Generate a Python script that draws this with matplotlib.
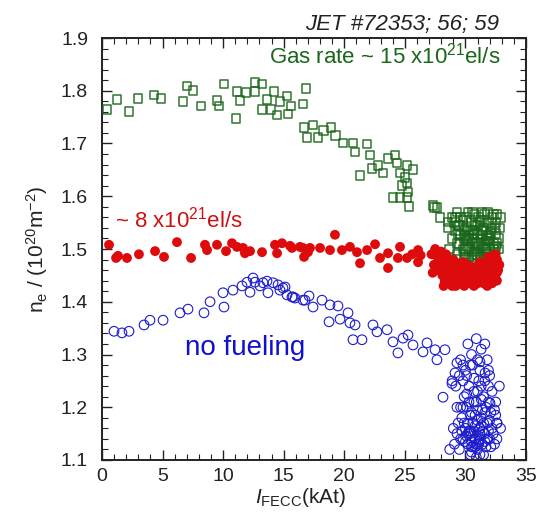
import matplotlib
matplotlib.use("Agg")
import matplotlib.pyplot as plt
from matplotlib.ticker import MultipleLocator

plt.rcParams['font.family'] = ['Liberation Sans', 'DejaVu Sans']
plt.rcParams['mathtext.fontset'] = 'custom'
plt.rcParams['mathtext.rm'] = 'Liberation Sans'
plt.rcParams['mathtext.it'] = 'Liberation Sans:italic'
plt.rcParams['mathtext.bf'] = 'Liberation Sans:bold'

# ---- Data: gas rate ~15e21 el/s (green squares) ----
green_x = [0.41, 1.24, 2.23, 2.97, 4.29, 4.87, 6.69, 7.02, 7.51, 8.17, 9.49, 9.66, 10.07,
           11.06, 11.14, 11.39, 11.89, 12.63, 12.63, 13.21, 13.21, 13.62, 13.95, 14.2, 14.45,
           14.69, 15.27, 15.35, 15.6, 16.59, 16.84, 16.68, 16.92, 17.42, 17.83, 18.3, 18.9, 19.3,
           19.89, 20.72, 21.88, 20.89, 22.12, 21.3, 22.29, 22.78, 23.2, 23.61, 24.19, 24.35,
           24.6, 25.18, 25.67, 25.01, 24.76, 25.18, 25.26, 24.02, 24.6, 25.18, 25.34, 27.32,
           27.45, 27.65, 27.9, 28.56, 29.3, 30.21, 31.37, 32.6,
           29.1, 29.4, 29.6, 29.9, 30.1, 30.3, 30.5, 30.7, 30.9, 31.1, 31.3, 31.5, 31.7, 31.9,
           32.1, 32.3, 32.5, 32.7, 29.3, 29.7, 30.0, 30.4, 30.8, 31.2, 31.6, 32.0, 32.4, 29.5,
           29.8, 30.2, 30.6, 31.0, 31.4, 31.8, 32.2, 32.6, 28.9, 28.7, 29.0, 30.6, 31.2, 31.8,
           32.8, 30.0, 30.5, 31.0, 31.5, 32.0, 30.8, 31.4, 30.3, 29.2, 32.3, 28.8, 31.6, 30.9,
           30.2, 29.4, 30.1, 30.7, 31.3, 31.9, 32.5, 29.9, 30.6, 31.1, 31.7,
           29.2, 29.5, 29.8, 30.1, 30.4, 30.7, 31.0, 31.3, 31.6, 31.9, 32.2, 32.5,
           29.3, 29.6, 29.9, 30.2, 30.5, 30.8, 31.1, 31.4, 31.7, 32.0, 32.3, 32.6,
           29.4, 30.0, 30.6, 31.2, 31.8, 32.4, 28.6, 28.9, 32.9, 32.7, 30.3, 31.5]
green_y = [1.765, 1.784, 1.760, 1.786, 1.792, 1.786, 1.779, 1.809, 1.801, 1.771, 1.782, 1.771, 1.813,
           1.748, 1.798, 1.781, 1.796, 1.815, 1.798, 1.813, 1.764, 1.784, 1.764, 1.798, 1.754,
           1.779, 1.790, 1.756, 1.771, 1.775, 1.805, 1.731, 1.712, 1.735, 1.712, 1.725, 1.730, 1.715,
           1.701, 1.701, 1.699, 1.684, 1.678, 1.640, 1.653, 1.659, 1.644, 1.672, 1.678, 1.663,
           1.644, 1.659, 1.650, 1.636, 1.621, 1.625, 1.608, 1.597, 1.597, 1.597, 1.580, 1.583,
           1.578, 1.578, 1.560, 1.551, 1.570, 1.570, 1.570, 1.566,
           1.55, 1.53, 1.56, 1.52, 1.54, 1.50, 1.55, 1.53, 1.51, 1.56, 1.52, 1.54, 1.50, 1.55,
           1.53, 1.51, 1.55, 1.52, 1.49, 1.47, 1.48, 1.46, 1.49, 1.47, 1.48, 1.46, 1.49, 1.51,
           1.50, 1.52, 1.51, 1.53, 1.50, 1.52, 1.54, 1.47, 1.52, 1.50, 1.47, 1.57, 1.55, 1.57,
           1.54, 1.50, 1.48, 1.49, 1.51, 1.50, 1.545, 1.535, 1.525, 1.535, 1.565, 1.48, 1.465, 1.465,
           1.465, 1.545, 1.515, 1.495, 1.535, 1.515, 1.505, 1.535, 1.485, 1.505, 1.485,
           1.56, 1.545, 1.555, 1.56, 1.535, 1.565, 1.545, 1.555, 1.565, 1.525, 1.56, 1.53,
           1.51, 1.525, 1.49, 1.505, 1.52, 1.50, 1.51, 1.525, 1.515, 1.52, 1.50, 1.51,
           1.48, 1.525, 1.535, 1.49, 1.49, 1.54, 1.54, 1.56, 1.56, 1.50, 1.485, 1.485]

# ---- Data: ~8e21 el/s (red dots) ----
red_x = [0.58, 1.16, 1.32, 2.06, 3.05, 4.38, 5.12, 6.19, 7.35, 8.5, 8.67, 9.49, 10.24, 10.73,
         11.14, 11.64, 11.8, 12.22, 13.21, 14.28, 14.45, 14.86, 15.52, 15.68, 16.34, 16.68, 17.0,
         16.59, 17.17, 18.0, 19.23, 18.82, 19.81, 20.47, 21.05, 21.3, 21.88, 22.54, 22.95, 23.61,
         23.61, 24.6, 24.43, 25.18, 26.09, 26.09, 25.6, 26.3,
         27.2, 27.4, 27.6, 27.9, 28.1, 28.3, 28.5, 28.7, 28.9, 29.1, 29.3, 29.5, 29.7, 29.9,
         30.1, 30.3, 30.5, 30.7, 30.9, 31.1, 31.3, 31.5, 31.7, 31.9, 32.1, 32.3, 32.5, 32.7,
         32.6, 32.4, 28.4, 28.0, 28.6, 29.0, 29.4, 29.8, 30.2, 30.6, 31.0, 31.4, 31.8, 32.2,
         29.2, 30.0, 30.8, 31.6, 32.0, 28.8, 29.6, 30.4, 31.2, 32.5, 31.9, 28.2,
         27.3, 27.7, 28.2, 28.6, 29.0, 29.4, 29.8, 30.2, 30.6, 31.0, 31.4, 31.8, 32.2, 32.6,
         27.5, 28.0, 28.5, 29.1, 29.6, 30.1, 30.6, 31.1, 31.6, 32.1, 32.6,
         28.3, 29.3, 30.3, 31.3, 32.3, 28.8, 29.8, 30.8, 31.8, 32.8]
red_y = [1.508, 1.483, 1.487, 1.483, 1.490, 1.496, 1.485, 1.513, 1.483, 1.508, 1.498, 1.508,
         1.496, 1.511, 1.504, 1.502, 1.492, 1.496, 1.494, 1.508, 1.492, 1.511, 1.506, 1.502,
         1.504, 1.485, 1.494, 1.502, 1.502, 1.502, 1.527, 1.498, 1.498, 1.504, 1.494, 1.473,
         1.498, 1.509, 1.483, 1.492, 1.464, 1.504, 1.483, 1.483, 1.498, 1.475, 1.49, 1.488,
         1.49, 1.47, 1.46, 1.48, 1.45, 1.47, 1.44, 1.46, 1.43, 1.45, 1.47, 1.44, 1.46, 1.43,
         1.45, 1.44, 1.46, 1.43, 1.45, 1.44, 1.46, 1.435, 1.45, 1.44, 1.46, 1.45, 1.47, 1.46,
         1.48, 1.44, 1.49, 1.47, 1.475, 1.48, 1.455, 1.475, 1.47, 1.44, 1.465, 1.45, 1.47, 1.435,
         1.43, 1.44, 1.455, 1.46, 1.45, 1.445, 1.45, 1.435, 1.475, 1.49, 1.485, 1.43,
         1.455, 1.485, 1.46, 1.455, 1.44, 1.465, 1.445, 1.455, 1.465, 1.435, 1.44, 1.455, 1.47, 1.455,
         1.50, 1.495, 1.47, 1.46, 1.465, 1.435, 1.45, 1.455, 1.445, 1.475, 1.44,
         1.44, 1.44, 1.455, 1.445, 1.48, 1.465, 1.46, 1.435, 1.43, 1.47]

# ---- Data: no fueling (blue circles) ----
blue_x = [0.99, 1.65, 2.23, 3.47, 3.96, 5.04, 6.44, 7.1, 8.42, 8.92, 9.99, 10.07, 10.81, 11.56,
          11.97, 12.22, 12.47, 12.63, 13.04, 13.62, 13.7, 14.12, 14.53, 14.69, 15.11, 15.27,
          15.68, 15.93, 16.59, 17.09, 17.42, 13.29, 14.94, 15.77, 16.76, 18.16, 18.82, 18.74,
          19.48, 19.65, 20.31, 20.47, 20.89, 20.72, 21.46, 22.37, 22.7, 23.53, 24.02, 24.43,
          24.85, 25.26, 25.67, 26.5, 26.83, 27.49, 27.65, 28.31, 28.15, 28.89, 29.3, 29.14,
          31.2, 31.62, 32.03, 32.61,
          29.5, 29.8, 30.0, 30.2, 30.4, 30.6, 30.8, 31.0, 31.2, 31.4, 31.6, 31.8, 32.0, 32.2,
          29.7, 30.1, 30.5, 30.9, 31.3, 31.7, 32.1, 29.9, 30.3, 30.7, 31.1, 31.5, 31.9, 30.0,
          30.6, 31.2, 31.8, 30.4, 30.9, 31.5, 29.3, 29.1, 32.4, 32.6, 32.5, 30.2, 30.7, 31.1,
          31.3, 30.5, 31.0, 31.6, 30.8, 29.6, 31.4, 30.1, 31.9, 30.3, 31.0, 29.8, 32.0, 30.5,
          31.3, 29.6, 30.2, 30.9, 31.6, 30.6, 31.1, 30.4, 30.8, 31.2,
          28.7, 29.0, 29.3, 29.6, 29.9, 30.2, 30.5, 30.8, 31.1, 31.4, 31.7, 32.0, 32.3, 32.6, 32.9,
          29.2, 29.5, 29.8, 30.1, 30.4, 30.7, 31.0, 31.3, 31.6, 31.9, 32.2, 32.5,
          29.4, 29.7, 30.0, 30.3, 30.6, 30.9, 31.2, 31.5, 31.8, 32.1, 32.4,
          30.1, 30.7, 31.3, 31.9, 30.4, 31.0, 31.6, 29.8, 32.8, 28.9, 30.5, 31.2]
blue_y = [1.344, 1.341, 1.344, 1.356, 1.365, 1.365, 1.379, 1.386, 1.379, 1.400, 1.417, 1.390,
          1.422, 1.430, 1.437, 1.418, 1.445, 1.437, 1.430, 1.439, 1.417, 1.436, 1.432, 1.422,
          1.428, 1.413, 1.409, 1.407, 1.403, 1.411, 1.390, 1.436, 1.426, 1.409, 1.403, 1.403,
          1.394, 1.362, 1.392, 1.367, 1.379, 1.360, 1.356, 1.328, 1.328, 1.356, 1.343, 1.347,
          1.324, 1.303, 1.331, 1.337, 1.318, 1.305, 1.322, 1.309, 1.290, 1.309, 1.219, 1.245,
          1.284, 1.265, 1.286, 1.265, 1.208, 1.170,
          1.12, 1.14, 1.16, 1.13, 1.15, 1.17, 1.14, 1.12, 1.16, 1.13, 1.15, 1.17, 1.14, 1.16,
          1.18, 1.20, 1.19, 1.21, 1.18, 1.20, 1.19, 1.22, 1.24, 1.23, 1.25, 1.22, 1.24, 1.27,
          1.28, 1.27, 1.29, 1.11, 1.105, 1.11, 1.15, 1.13, 1.13, 1.17, 1.21, 1.17, 1.155, 1.145,
          1.165, 1.135, 1.175, 1.135, 1.185, 1.20, 1.195, 1.145, 1.155, 1.21, 1.23, 1.25, 1.26, 1.30,
          1.31, 1.29, 1.32, 1.33, 1.32, 1.125, 1.135, 1.155, 1.125, 1.15,
          1.12, 1.16, 1.20, 1.14, 1.17, 1.15, 1.125, 1.165, 1.13, 1.155, 1.125, 1.175, 1.15, 1.14, 1.16,
          1.24, 1.26, 1.20, 1.225, 1.185, 1.21, 1.195, 1.215, 1.19, 1.21, 1.23, 1.185,
          1.17, 1.155, 1.135, 1.155, 1.145, 1.13, 1.14, 1.17, 1.14, 1.125, 1.195,
          1.26, 1.255, 1.24, 1.27, 1.28, 1.29, 1.25, 1.28, 1.24, 1.25, 1.115, 1.11]

W, H = 539, 517
fig = plt.figure(figsize=(W / 100, H / 100), dpi=100)
ax = fig.add_axes([102 / W, 1 - 460 / H, 424 / W, 422 / H])

ax.scatter(blue_x, blue_y, s=48, facecolors='none', edgecolors='#1c1ccc', linewidths=0.8, zorder=2)
ax.scatter(green_x, green_y, s=40, marker='s', facecolors='none', edgecolors='#1a661a',
           linewidths=1.1, alpha=0.9, zorder=3)
ax.scatter(red_x, red_y, s=50, color='#dd0b0b', edgecolors='none', zorder=4)

ax.set_xlim(0, 35)
ax.set_ylim(1.1, 1.9)
ax.xaxis.set_major_locator(MultipleLocator(5))
ax.xaxis.set_minor_locator(MultipleLocator(1))
ax.yaxis.set_major_locator(MultipleLocator(0.1))
ax.yaxis.set_minor_locator(MultipleLocator(0.02))
ax.tick_params(which='both', direction='in', top=True, right=True, colors='#222222')
ax.tick_params(which='major', length=7, width=1.0)
ax.tick_params(which='minor', length=4, width=0.8)
ax.tick_params(axis='y', which='major', labelsize=14, pad=10, labelcolor='#222222')
ax.tick_params(axis='x', which='major', labelsize=14, pad=6, labelcolor='#222222')
for sp in ax.spines.values():
    sp.set_linewidth(1.4)
    sp.set_color('#222222')

ax.text(32.9, 1.852, r'Gas rate ~ 15 x10$^{21}$el/s', color='#1a661a', fontsize=16,
        ha='right', va='baseline', zorder=5)
ax.text(1.07, 1.540, r'~ 8 x10$^{21}$el/s', color='#d01010', fontsize=16,
        ha='left', va='baseline', zorder=5)
ax.text(6.85, 1.299, 'no fueling', color='#1010d0', fontsize=20,
        ha='left', va='baseline', zorder=5)

fig.text(499 / W, 1 - 30 / H, 'JET #72353; 56; 59', fontsize=16, style='italic',
         ha='right', va='baseline', color='#222222')

ax.set_ylabel(r'n$_\mathregular{e}$ / (10$^{20}$m$^{-2}$)', fontsize=15, color='#222222', labelpad=8)
fig.text(300 / W, 1 - 503 / H, r'$I_{\mathrm{FECC}}$(kAt)', fontsize=15, ha='center',
         va='baseline', color='#222222')

fig.savefig('out.png', dpi=100)
